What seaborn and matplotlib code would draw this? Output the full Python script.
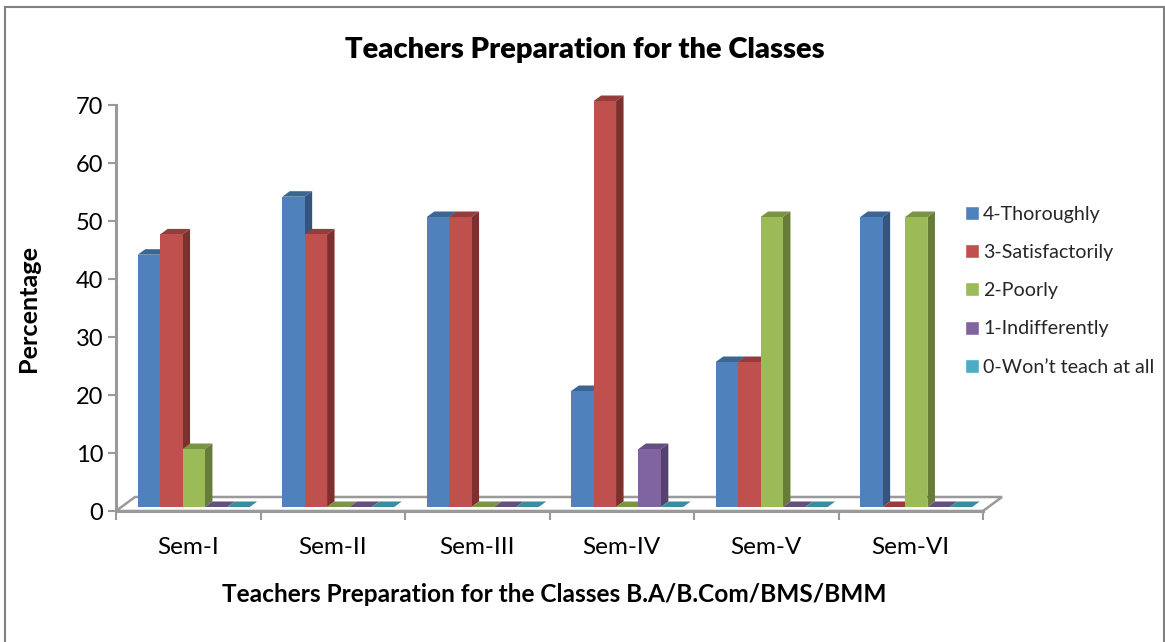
import numpy as np
import pandas as pd
import matplotlib
matplotlib.use("Agg")
import matplotlib.pyplot as plt
import seaborn as sns
from matplotlib.patches import Polygon, Rectangle
from matplotlib.transforms import Affine2D

semesters = ["Sem-I", "Sem-II", "Sem-III", "Sem-IV", "Sem-V", "Sem-VI"]
responses = ["4-Thoroughly", "3-Satisfactorily", "2-Poorly", "1-Indifferently", "0-Won\u2019t teach at all"]
thoroughly = [43.5, 53.5, 50, 20, 25, 50]
satisfactorily = [47, 47, 50, 70, 25, 0]
poorly = [10, 0, 0, 0, 50, 50]
indifferently = [0, 0, 0, 10, 0, 0]
wont_teach = [0, 0, 0, 0, 0, 0]
yticks = [0, 10, 20, 30, 40, 50, 60, 70]

front = ["#4F81BD", "#C0504D", "#9BBB59", "#8064A2", "#4BACC6"]
side = ["#35557F", "#7E302E", "#677C39", "#55436D", "#31778A"]
top = ["#3D6594", "#963C3A", "#7A9446", "#654F80", "#3A8CA2"]

W, H = 1165, 642
DPI = 100


def px(x, y):
    # image pixels (y down) to display coords
    return (x, H - y)


sns.set_theme(style="white")
plt.rcParams["font.family"] = ["Lato", "DejaVu Sans"]

df = pd.DataFrame({
    "semester": semesters * 5,
    "response": np.repeat(responses, 6),
    "value": thoroughly + satisfactorily + poorly + indifferently + wont_teach,
})

fig = plt.figure(figsize=(W / DPI, H / DPI), dpi=DPI)
ax = fig.add_axes([116 / W, (H - 511) / H, (983 - 116) / W, (511 - 105) / H])

sns.barplot(data=df, x="semester", y="value", hue="response", hue_order=responses,
            palette=front, width=0.775, saturation=1, ax=ax, legend=True)
ax.set_xlim(-0.5, 5.5)
ax.set_ylim(0, 70)
ax.set_yticks(yticks)
ax.patch.set_alpha(0)

gray = "#9A9A9A"
for name in ["top", "right"]:
    ax.spines[name].set_visible(False)
for name in ["left", "bottom"]:
    ax.spines[name].set_color(gray)
    ax.spines[name].set_linewidth(2.2)
ax.set_xticks(np.arange(-0.5, 6, 1), minor=True)
ax.tick_params(axis="x", which="minor", length=6.5, width=1.5, color=gray, bottom=True)
ax.tick_params(axis="x", which="major", length=0, labelsize=17.5, pad=19, labelcolor="black")
ax.tick_params(axis="y", length=6, width=1.5, color=gray, left=True, labelsize=17, pad=3, labelcolor="black")
ax.set_xlabel("Teachers Preparation for the Classes B.A/B.Com/BMS/BMM", fontsize=17.6,
              fontweight="bold", labelpad=18, color="black", x=0.506)
ax.set_ylabel("Percentage", fontsize=18.2, fontweight="bold", labelpad=26, color="black")

# floor of the 3d box
depth_x, depth_y = 19, 14
floor = Polygon([px(116, 511), px(116 + depth_x, 511 - depth_y), px(983 + depth_x, 511 - depth_y), px(983, 511)],
                closed=True, facecolor="none", edgecolor=gray, linewidth=1.8,
                transform=None, zorder=1)
fig.add_artist(floor)

# shift the bars onto the floor and give them side and top faces
bar_dx, bar_dy = 5.5, 4
ext_x, ext_y = 7.5, 5.5
for i, container in enumerate(ax.containers):
    for bar in container:
        bar.set_transform(ax.transData + Affine2D().translate(bar_dx, bar_dy))
        bar.set_clip_on(False)
        bar.set_zorder(4)
        bar.set_linewidth(0)
        (x0, y0), (x1, y1) = ax.transData.transform(
            [(bar.get_x(), 0), (bar.get_x() + bar.get_width(), bar.get_height())])
        x0, x1 = x0 + bar_dx, x1 + bar_dx
        y0, y1 = y0 + bar_dy, y1 + bar_dy
        top_face = Polygon([(x0, y1), (x0 + ext_x, y1 + ext_y), (x1 + ext_x, y1 + ext_y), (x1, y1)],
                           closed=True, facecolor=top[i], edgecolor="none", transform=None, zorder=3)
        fig.add_artist(top_face)
        if bar.get_height() > 0:
            side_face = Polygon([(x1, y0), (x1 + ext_x, y0 + ext_y), (x1 + ext_x, y1 + ext_y), (x1, y1)],
                                closed=True, facecolor=side[i], edgecolor="none", transform=None, zorder=3)
            fig.add_artist(side_face)

# figure artists are drawn under the axes unless the axes are lower
ax.set_zorder(5)

handles, labels = ax.get_legend_handles_labels()
ax.legend(handles, labels, loc="upper left", bbox_to_anchor=(965 / W, (H - 206) / H),
          bbox_transform=fig.transFigure, frameon=False, fontsize=14.1, labelspacing=1.08,
          handlelength=0.72, handleheight=0.72, handletextpad=0.2, borderpad=0, borderaxespad=0)

fig.suptitle("Teachers Preparation for the Classes", x=585 / W, y=(H - 50) / H, va="center",
             fontsize=21, fontweight="heavy", color="black")

# frame runs off the bottom of the picture
border = Rectangle((5, -10), 1159, H + 10 - 7, facecolor="none", edgecolor="#808080", linewidth=1.5,
                   transform=None, zorder=10)
fig.add_artist(border)

fig.savefig("out.png", dpi=DPI)
